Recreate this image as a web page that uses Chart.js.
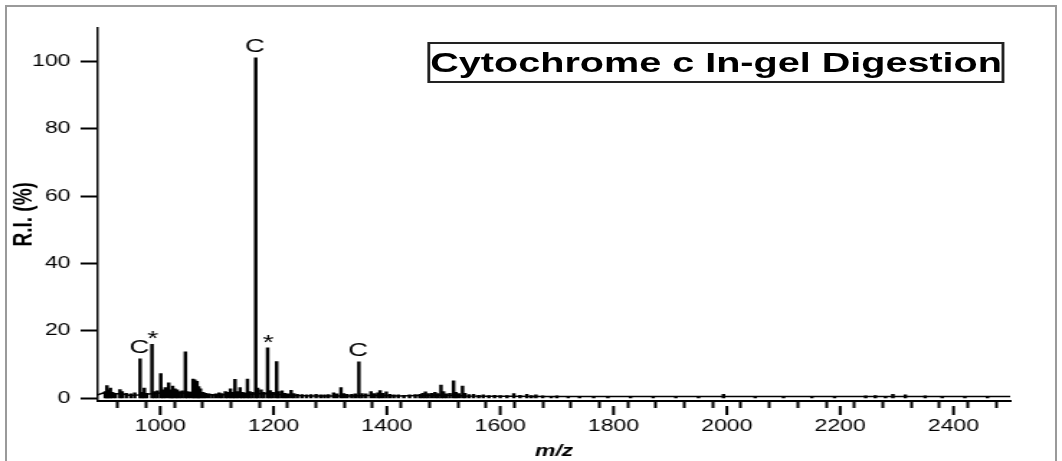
<!DOCTYPE html>
<html lang="en">
<head>
<meta charset="UTF-8">
<title>Cytochrome c In-gel Digestion</title>
<script src="https://cdn.jsdelivr.net/npm/chart.js"></script>
<style>
  html, body { margin: 0; padding: 0; background: #fff; }
  body { width: 1062px; height: 461px; overflow: hidden; position: relative; font-family: "Liberation Sans", Arial, sans-serif; }
  .frame { position: absolute; left: 5px; top: 5px; width: 1052px; height: 480px; border: 2px solid #9a9a9a; border-bottom: none; box-sizing: border-box; }
  /* the source figure is stretched sideways, so the whole plot is drawn narrow and scaled */
  .stage { position: absolute; left: 0; top: 0; width: 738px; height: 461px; transform: scaleX(1.439); transform-origin: 0 0; }
  .title-box { position: absolute; left: 297px; top: 42px; width: 401px; height: 41px; border: 2px solid #222; box-sizing: border-box;
               font: bold 27.5px "Liberation Sans", Arial, sans-serif; line-height: 37px; text-align: center; white-space: nowrap; color: #000; }
</style>
</head>
<body>

<div class="frame"></div>
<div class="stage">
  <canvas id="spectrum"></canvas>
  <div class="title-box">Cytochrome c In-gel Digestion</div>
</div>

<script>
    // peaks (m/z, relative intensity %)
    const peakMz = [903, 906, 909, 912, 916, 921, 929, 933, 940, 948, 955, 964.5, 968, 972, 976, 985.5, 990, 995,
        1001, 1005, 1009, 1015, 1019, 1022, 1026, 1030, 1034, 1039, 1044.5, 1048, 1053, 1058, 1061, 1065, 1068, 1071,
        1076, 1080, 1086, 1092, 1098, 1104, 1109, 1115, 1119, 1124, 1128, 1132, 1136, 1141, 1145, 1149, 1154, 1158,
        1163, 1168.6, 1172, 1178, 1183, 1189.6, 1194, 1199, 1205.5, 1209, 1215, 1220, 1225, 1231, 1236, 1242, 1250,
        1258, 1266, 1275, 1283, 1290, 1297, 1306, 1312, 1319, 1324, 1330, 1338, 1344, 1350.6, 1356, 1363, 1372, 1378,
        1384, 1388, 1393, 1399, 1405, 1412, 1420, 1430, 1440, 1450, 1458, 1463, 1468, 1473, 1479, 1485, 1490, 1495.5,
        1500, 1505, 1511, 1517.7, 1522, 1527, 1533.5, 1538, 1545, 1553, 1562, 1570, 1580, 1590, 1600, 1612, 1624,
        1635, 1647, 1655, 1663, 1675, 1690, 1700, 1720, 1740, 1765, 1790, 1830, 1870, 1910, 1950, 1994, 2050, 2100,
        2150, 2190, 2245, 2262, 2280, 2293, 2315, 2350, 2380, 2420, 2460];
    const peakRi = [2.0, 3.8, 2.5, 3.0, 1.8, 1.5, 2.6, 2.0, 1.5, 1.3, 1.6, 11.7, 1.8, 3.0, 1.5, 16.0, 2.0, 2.2,
        7.3, 2.5, 3.2, 4.6, 2.5, 3.6, 2.8, 2.5, 2.0, 2.2, 13.8, 2.0, 1.8, 5.7, 5.5, 5.0, 3.5, 2.8,
        1.8, 1.5, 1.3, 1.2, 1.3, 1.6, 1.4, 2.0, 1.8, 2.8, 1.8, 5.6, 2.0, 3.2, 1.8, 1.6, 5.7, 2.0,
        1.8, 101, 3.0, 2.5, 1.8, 15.0, 2.3, 1.8, 10.9, 2.0, 2.2, 1.5, 1.3, 2.4, 1.4, 1.2, 1.1,
        1.0, 1.1, 1.2, 1.0, 1.0, 1.1, 1.6, 1.3, 3.2, 1.4, 1.2, 1.2, 1.3, 10.8, 1.4, 1.3, 2.0, 1.4,
        1.6, 2.3, 1.5, 1.9, 1.2, 1.0, 1.0, 0.9, 1.0, 1.1, 1.2, 1.5, 1.9, 1.4, 1.5, 1.8, 1.4, 3.9,
        2.0, 1.3, 1.5, 5.2, 1.8, 1.4, 3.6, 1.5, 1.1, 1.2, 0.9, 1.0, 0.8, 0.9, 0.8, 0.8, 1.4,
        0.9, 1.2, 0.8, 1.0, 0.7, 0.6, 0.7, 0.6, 0.6, 0.6, 0.5, 0.5, 0.5, 0.5, 0.5, 1.2, 0.5, 0.5,
        0.5, 0.6, 0.7, 0.8, 0.6, 1.2, 1.0, 0.7, 0.6, 0.5, 0.5];

    // noisy baseline under the peaks
    const baseMz = [890, 900, 915, 930, 945, 960, 980, 1000, 1020, 1040, 1060, 1080, 1100, 1120, 1140, 1160, 1180,
        1200, 1220, 1240, 1270, 1300, 1340, 1380, 1420, 1460, 1500, 1540, 1580, 1620, 1680, 1750, 1850, 2000,
        2200, 2300, 2500];
    const baseRi = [1.0, 1.6, 1.2, 1.4, 0.9, 1.0, 1.3, 1.6, 1.8, 1.5, 1.9, 1.2, 0.9, 1.1, 1.3, 1.2, 1.4,
        1.3, 1.0, 0.8, 0.7, 0.7, 0.7, 0.9, 0.7, 0.8, 1.0, 0.7, 0.6, 0.6, 0.55, 0.5, 0.5, 0.55,
        0.5, 0.55, 0.5];

    // marked peaks
    const labelMz = [964.5, 985.5, 1168.6, 1189.6, 1350.6];
    const labelText = ["C", "*", "C", "*", "C"];

    const yTicks = [0, 20, 40, 60, 80, 100];
    const xLabelEvery = 200;

    const FONT = '"Liberation Sans", Arial, sans-serif';

    const extras = {
        id: 'extras',
        afterDraw(chart) {
            const { ctx, scales: { x, y } } = chart;
            ctx.save();
            // longer ticks under the labelled values
            ctx.strokeStyle = '#000';
            ctx.lineWidth = 2;
            x.ticks.forEach(t => {
                if (t.value % xLabelEvery !== 0) return;
                const px = x.getPixelForValue(t.value);
                ctx.beginPath();
                ctx.moveTo(px, x.top + 5);
                ctx.lineTo(px, x.top + 14);
                ctx.stroke();
            });
            // C / * marks over peaks
            ctx.fillStyle = '#000';
            ctx.textAlign = 'center';
            ctx.textBaseline = 'alphabetic';
            labelMz.forEach((m, i) => {
                const ri = peakRi[peakMz.indexOf(m)];
                const px = x.getPixelForValue(m);
                const py = y.getPixelForValue(ri);
                if (labelText[i] === '*') {
                    ctx.font = '20px ' + FONT;
                    ctx.fillText('*', px + 0.5, py + 1);
                } else {
                    ctx.font = '19px ' + FONT;
                    ctx.fillText(labelText[i], px - 0.5, py - 6);
                }
            });
            ctx.restore();
        }
    };

    new Chart(document.getElementById('spectrum'), {
        type: 'bar',
        data: {
            datasets: [
                {
                    type: 'bar',
                    data: peakMz.map((m, i) => ({ x: m, y: peakRi[i] })),
                    backgroundColor: '#000',
                    borderWidth: 0,
                    barThickness: 1.8,
                    order: 1
                },
                {
                    type: 'line',
                    data: baseMz.map((m, i) => ({ x: m, y: baseRi[i] })),
                    borderColor: '#000',
                    borderWidth: 1.5,
                    pointRadius: 0,
                    tension: 0,
                    fill: false,
                    order: 2
                }
            ]
        },
        options: {
            responsive: true,
            maintainAspectRatio: false,
            animation: false,
            layout: { padding: { top: 27.6, right: 36, bottom: 0, left: 0 } },
            plugins: { legend: { display: false }, tooltip: { enabled: false } },
            scales: {
                x: {
                    type: 'linear',
                    min: 890,
                    max: 2500,
                    offset: false,
                    border: { color: '#000', width: 2 },
                    grid: { drawOnChartArea: false, tickLength: 7, tickColor: '#000', tickWidth: 2 },
                    afterFit: s => { s.height = 60; },
                    ticks: {
                        stepSize: 50,
                        includeBounds: false,
                        autoSkip: false,
                        maxRotation: 0,
                        padding: 9,
                        color: '#000',
                        font: { family: FONT, size: 16 },
                        callback: v => (v % xLabelEvery === 0 ? v : '')
                    },
                    title: {
                        display: true,
                        text: 'm/z',
                        color: '#000',
                        font: { family: FONT, size: 16, weight: 'bold', style: 'italic' },
                        padding: { top: 0, bottom: 0 }
                    }
                },
                y: {
                    min: -0.8,
                    max: 110,
                    border: { color: '#000', width: 1.5 },
                    grid: { drawOnChartArea: false, tickLength: 12, tickColor: '#000', tickWidth: 2 },
                    afterBuildTicks: s => { s.ticks = yTicks.map(v => ({ value: v })); },
                    afterFit: s => { s.width = 68; },
                    ticks: {
                        padding: 7,
                        color: '#000',
                        font: { family: FONT, size: 16 }
                    },
                    title: {
                        display: true,
                        text: 'R.I. (%)',
                        color: '#000',
                        font: { family: FONT, size: 19, weight: 'bold' },
                        padding: { top: 5, bottom: 0 }
                    }
                }
            }
        },
        plugins: [extras]
    });
</script>

</body>
</html>
